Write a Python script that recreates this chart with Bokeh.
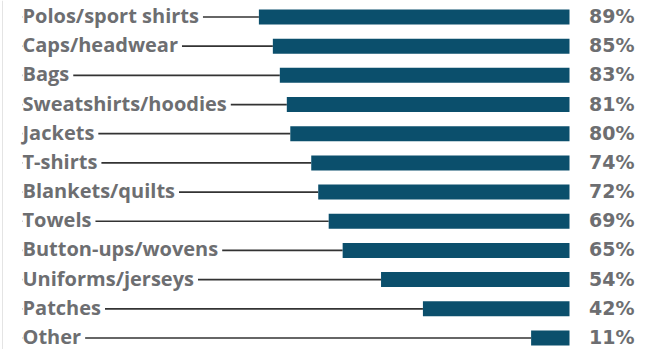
from bokeh.plotting import figure
from bokeh.models import Range1d, ColumnDataSource, Span
from bokeh.core.properties import value
from bokeh.embed import file_html
from bokeh.resources import INLINE

categories = ["Polos/sport shirts", "Caps/headwear", "Bags", "Sweatshirts/hoodies",
              "Jackets", "T-shirts", "Blankets/quilts", "Towels", "Button-ups/wovens",
              "Uniforms/jerseys", "Patches", "Other"]
values = [89, 85, 83, 81, 80, 74, 72, 69, 65, 54, 42, 11]
pct_labels = [f"{v}%" for v in values]

W, H = 656, 349
BAR_END_PX = 569.0
PX_PER = 3.49
ROW0_PX, ROW_PX = 16.5, 29.18

def px_to_v(px):
    return (BAR_END_PX - px) / PX_PER

def py_to_row(py):
    return (py - ROW0_PX) / ROW_PX

idx = list(range(len(categories)))
label_x = px_to_v(22)
pct_x = px_to_v(634)

src = ColumnDataSource(dict(
    y=idx, v=values, cat=categories, pct=pct_labels,
    zero=[0] * len(idx), lx=[label_x] * len(idx), px=[pct_x] * len(idx),
))

p = figure(width=W, height=H,
           x_range=Range1d(px_to_v(0), px_to_v(W)),
           y_range=Range1d(py_to_row(H), py_to_row(0)),
           min_border=0, toolbar_location=None, output_backend="svg")
p.axis.visible = False
p.grid.visible = False
p.outline_line_color = None
p.background_fill_color = "white"

p.add_layout(Span(location=px_to_v(2), dimension="height", line_color="#e4e4e4", line_width=1))

p.segment(x0="lx", y0="y", x1="v", y1="y", source=src, line_color="#333333", line_width=1.7)
p.hbar(y="y", left="zero", right="v", height=15 / ROW_PX, source=src,
       fill_color="#0b4f6c", line_color=None)

p.text(x="lx", y="y", text="cat", source=src, y_offset=-1.5,
       text_font=value("Open Sans"), text_font_style="bold", text_font_size="20px",
       text_color="#6d6e71", text_align="left", text_baseline="middle", text_line_height=1.0,
       background_fill_color="white", padding=dict(left=0, right=4, top=0, bottom=0))
p.text(x="px", y="y", text="pct", source=src, y_offset=-1,
       text_font=value("DejaVu Sans"), text_font_style="bold", text_font_size="19px",
       text_color="#6d6e71", text_align="right", text_baseline="middle", text_line_height=1.0)

open("out.html", "w").write(file_html(p, INLINE))
